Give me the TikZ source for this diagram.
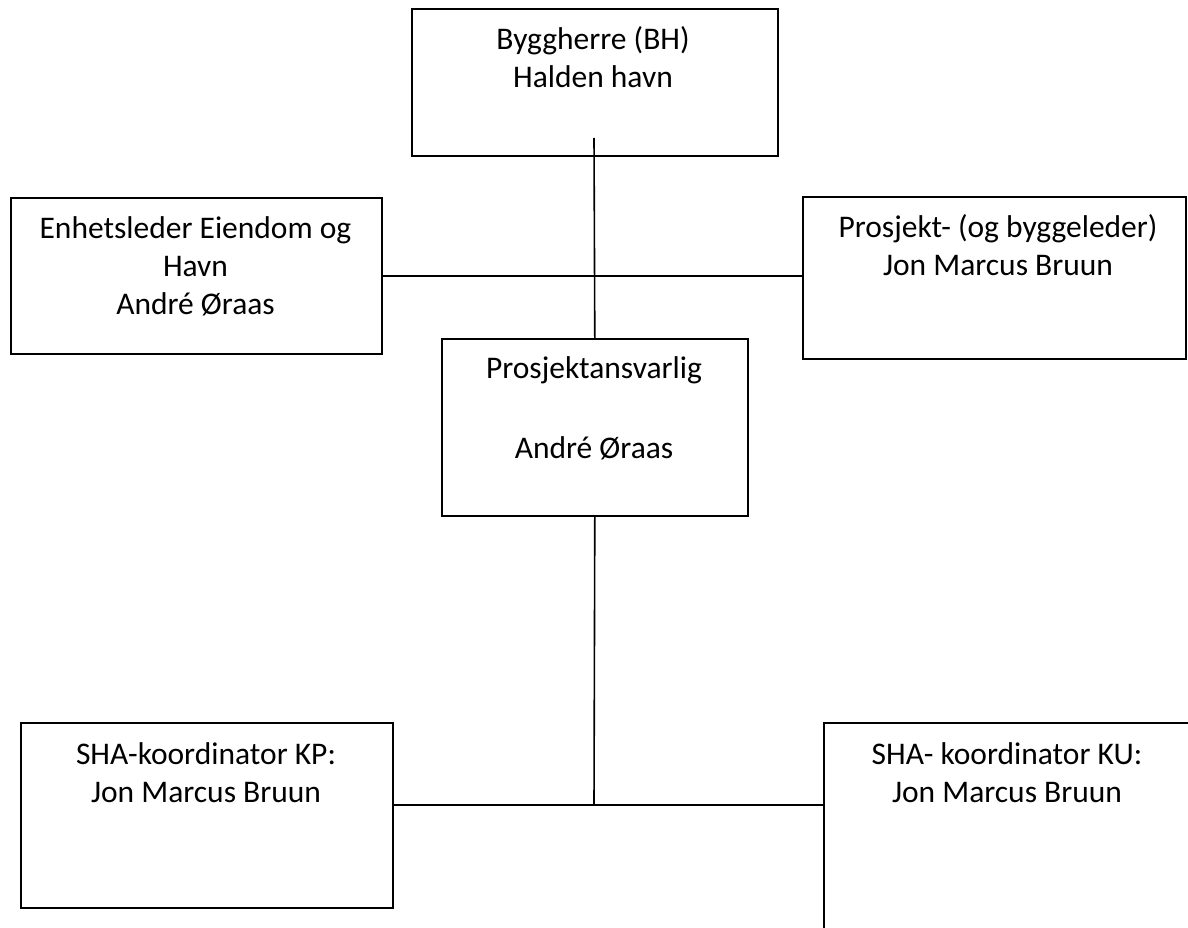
\documentclass[tikz,border=0pt]{standalone}
\usepackage{fontspec}
\setmainfont{Carlito}
\begin{document}
\begin{tikzpicture}[x=1pt,y=-1pt,
  box/.style={draw=black, line width=1.6pt, rectangle, inner sep=0pt, anchor=north west},
  lbl/.style={align=center, inner sep=0pt, anchor=base, font=\fontsize{31.5}{38}\selectfont},
  conn/.style={draw=black, line width=1.6pt}]
\useasboundingbox (0,0) rectangle (1188,928);
\clip (0,0) rectangle (1188,928);
\fill[white] (0,0) rectangle (1188,928);
% boxes
\node[box, minimum width=366pt, minimum height=147pt] (bh) at (411,8) {};
\node[box, minimum width=371pt, minimum height=156pt] (enh) at (10,197) {};
\node[box, minimum width=383pt, minimum height=162pt] (pl) at (802,196) {};
\node[box, minimum width=306pt, minimum height=177pt] (pa) at (441,338) {};
\node[box, minimum width=372pt, minimum height=185pt] (kp) at (20,722) {};
\node[box, minimum width=400pt, minimum height=240pt] (ku) at (823,722) {};
% labels (anchor = baseline of last line)
\node[lbl] (bht) at (593,88) {Byggherre (BH)\\Halden havn};
\node[lbl] (enht) at (195.5,314) {Enhetsleder Eiendom og\\Havn\\André Øraas};
\node[lbl] (plt) at (998,275) {Prosjekt- (og byggeleder)\\Jon Marcus Bruun};
\node[lbl] (pat) at (594,458) {Prosjektansvarlig\\[42pt]André Øraas};
\node[lbl] (kpt) at (206,802) {SHA-koordinator KP:\\Jon Marcus Bruun};
\node[lbl] (kut) at (1007,802) {SHA- koordinator KU:\\Jon Marcus Bruun};
% connectors
\coordinate (bhstart) at (594,138);
\coordinate (junc) at (594,805);
\draw[conn] (bhstart) -- (pa.north);
\draw[conn] (enh.east) -- (enh.east -| pl.west);
\draw[conn] (pa.south) -- (junc);
\draw[conn] (junc -| kp.east) -- (junc -| ku.west);
\end{tikzpicture}
\end{document}
